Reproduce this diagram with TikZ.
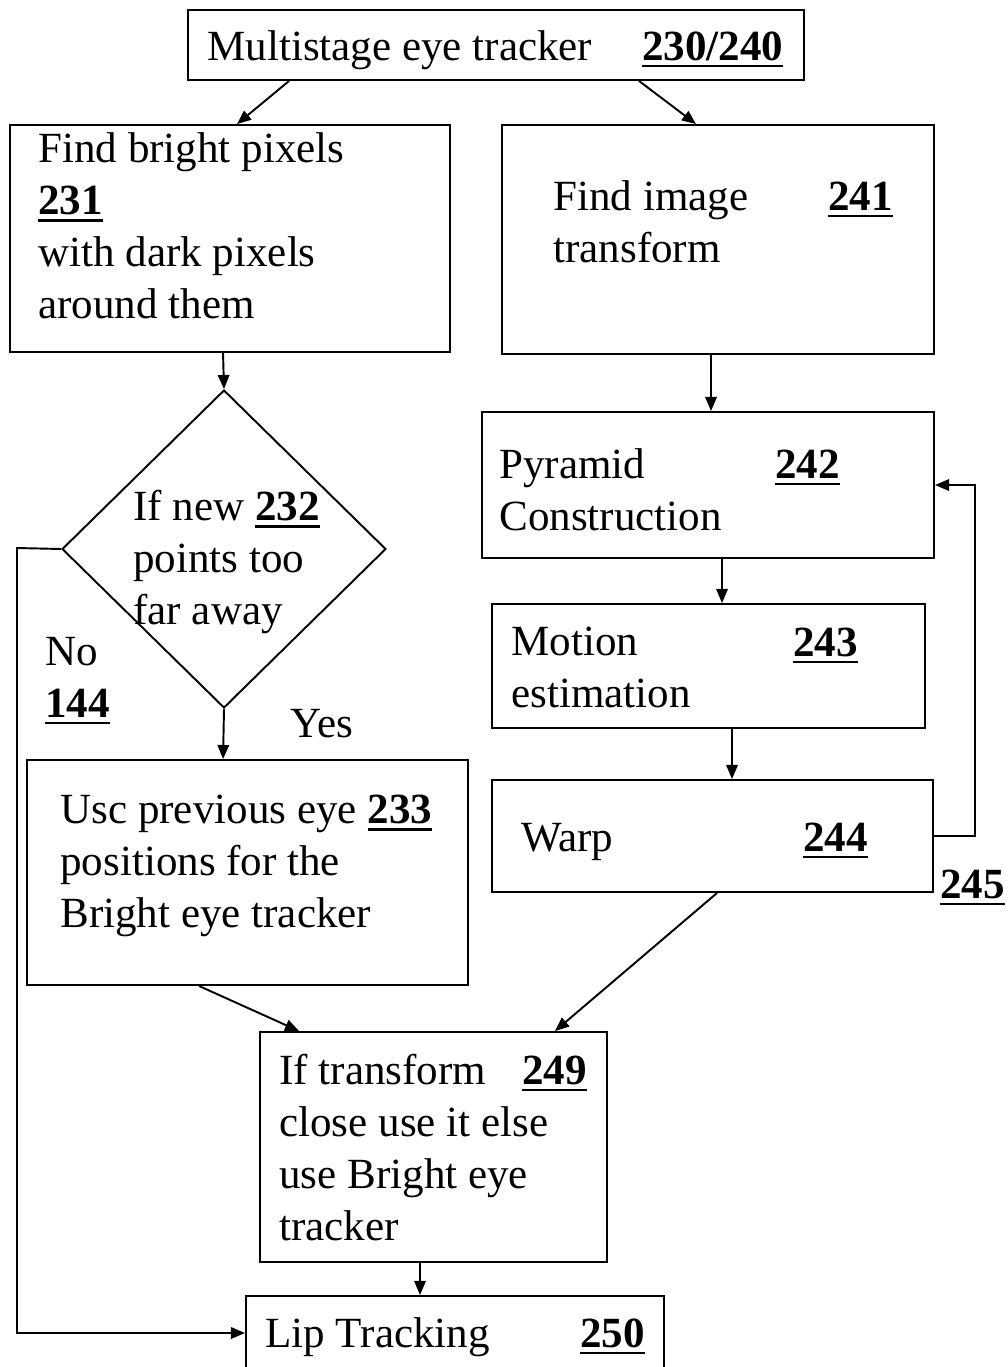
\documentclass[tikz,border=0pt]{standalone}
\usepackage{fontspec}
\setmainfont{Liberation Serif}
\usetikzlibrary{shapes.geometric,arrows.meta,fit,calc}
% bold, underlined reference numeral
\newcommand{\unum}[1]{\setbox0\hbox{\bfseries #1}\rlap{\rule[-4.2pt]{\wd0}{1.3pt}}\box0}

\begin{document}
\begin{tikzpicture}[x=0.02cm,y=-0.02cm,
  box/.style={draw, line width=1.1pt, inner sep=0pt},
  % multi-line texts are placed by the baseline of their last line
  txt/.style={anchor=base west, inner sep=0pt, align=left,
              font=\fontsize{24.5}{29.5}\selectfont},
  arr/.style={line width=1.1pt, -{Triangle[length=8pt,width=6.5pt]}}]
\useasboundingbox (0,0) rectangle (1008,1367);

% ---- boxes ----
\node[box, fit={(188,10) (804,80)}] (top) {};
\node[box, fit={(10,125) (450,352)}] (b231) {};
\node[box, fit={(502,125) (934,354)}] (b241) {};
\node[box, fit={(482,412) (934,558)}] (b242) {};
\node[box, fit={(492,604) (925,728)}] (b243) {};
\node[box, fit={(492,780) (933,892)}] (b244) {};
\node[box, fit={(27,760) (468,985)}] (b233) {};
\node[box, fit={(260,1032) (607,1262)}] (b249) {};
\node[box, fit={(246,1296) (664,1370)}] (b250) {};
\node[draw, diamond, line width=1.1pt, inner sep=0pt,
      minimum width=6.48cm, minimum height=6.36cm] (dia) at (224,549) {};

% ---- texts ----
\node[txt] (ttop) at (207,60) {Multistage eye tracker};
\node[txt] (ntop) at (642,60) {\unum{230/240}};

\node[txt] (t231) at (38,318) {Find bright pixels\\\unum{231}\\with dark pixels\\around them};

\node[txt] (t241) at (553,262) {Find image\\transform};
\node[txt] (n241) at (828,210) {\unum{241}};

\node[txt] (t232) at (133,624) {If new \unum{232}\\points too\\far away};
\node[txt] (tno) at (45,717) {No\\\unum{144}};
\node[txt] (tyes) at (290,737) {Yes};

\node[txt] (t242) at (499,530) {Pyramid\\Construction};
\node[txt] (n242) at (775,478) {\unum{242}};

\node[txt] (t243) at (511,707) {Motion\\estimation};
\node[txt] (n243) at (793,656) {\unum{243}};

\node[txt] (t244) at (521,851) {Warp};
\node[txt] (n244) at (803,851) {\unum{244}};
\node[txt] (n245) at (940,898) {\unum{245}};

\node[txt] (t233) at (60,927) {Usc previous eye \unum{233}\\positions for the\\Bright eye tracker};

\node[txt] (t249) at (279,1240) {If transform\\close use it else\\use Bright eye\\tracker};
\node[txt] (n249) at (522,1084) {\unum{249}};

\node[txt] (t250) at (265,1347) {Lip Tracking};
\node[txt] (n250) at (580,1347) {\unum{250}};

% ---- connectors ----
\draw[arr] ($(top.south west)+(102,0)$) -- ($(b231.north west)+(228,0)$);
\draw[arr] ($(top.south west)+(452,0)$) -- ($(b241.north west)+(195,0)$);
\draw[arr] ($(b231.south west)+(214,0)$) -- (dia.north);
\draw[arr] (dia.south) -- ($(b233.north west)+(197,0)$);

\coordinate (nol) at (17,548);
\draw[arr] (dia.west) -- (nol) |- (b250.west);

\draw[arr] ($(b241.south west)+(210,0)$) -- ($(b242.north west)+(230,0)$);
\draw[arr] ($(b242.south west)+(241,0)$) -- ($(b243.north west)+(231,0)$);
\draw[arr] ($(b243.south west)+(241,0)$) -- ($(b244.north west)+(241,0)$);

\coordinate (lp) at (975,836);
\draw[arr] (b244.east) -- (lp) |- (b242.east);

\draw[arr] ($(b244.south west)+(226,0)$) -- ($(b249.north west)+(296,0)$);
\draw[arr] ($(b233.south west)+(173,0)$) -- ($(b249.north west)+(40,0)$);
\draw[arr] ($(b249.south west)+(161,0)$) -- ($(b250.north west)+(175,0)$);
\end{tikzpicture}
\end{document}
